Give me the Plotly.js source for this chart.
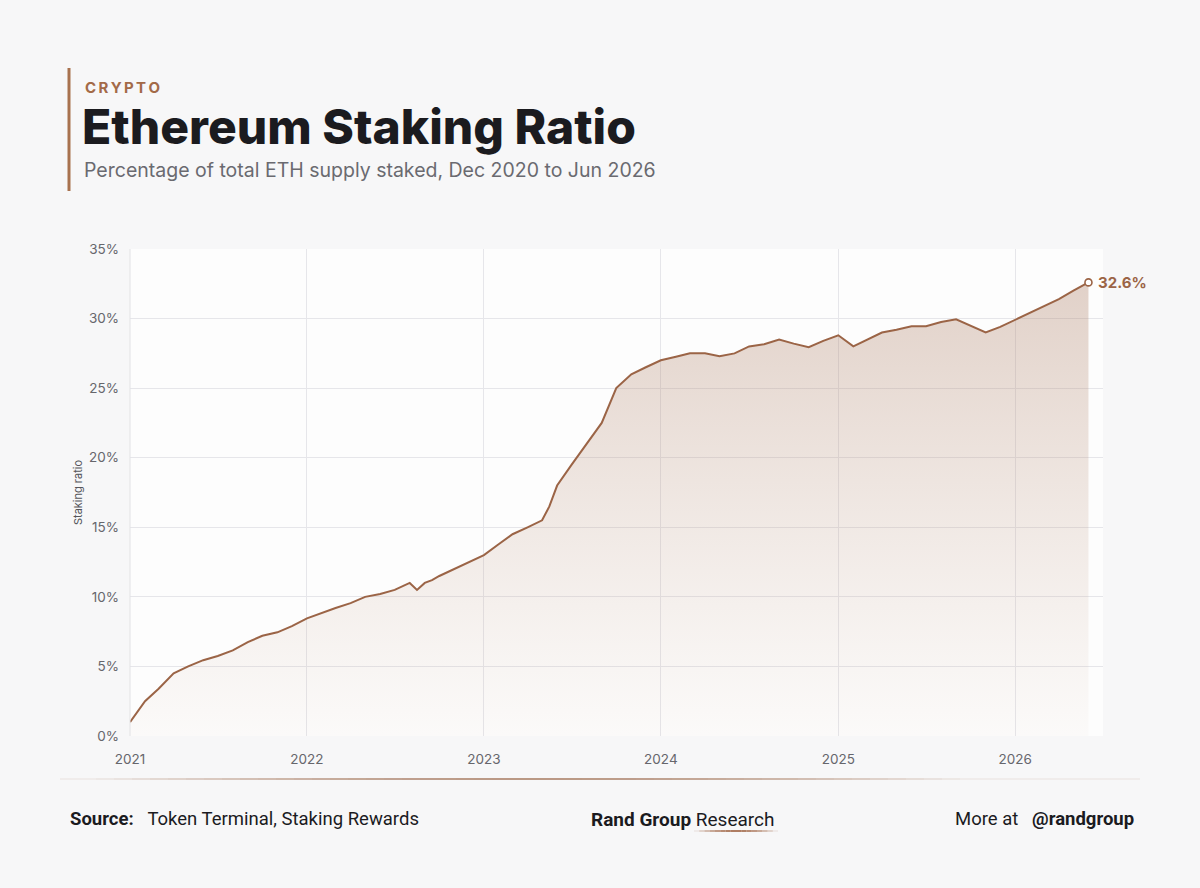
<!DOCTYPE html>
<html><head><meta charset="utf-8">
<script src="https://cdn.plot.ly/plotly-3.0.1.min.js"></script>
<style>html,body{margin:0;padding:0;background:#f7f7f8;}#chart{width:1200px;height:888px;}</style>
</head><body><div id="chart"></div>
<script>
// ---- Data ----
const dates = [
  '2021-01-01','2021-02-01','2021-03-01','2021-04-01','2021-05-01','2021-06-01',
  '2021-07-01','2021-08-01','2021-09-01','2021-10-01','2021-11-01','2021-12-01',
  '2022-01-01','2022-02-01','2022-03-01','2022-04-01','2022-05-01','2022-06-01',
  '2022-07-01','2022-08-01','2022-08-16','2022-09-01','2022-09-16','2022-10-01',
  '2022-11-01','2022-12-01',
  '2023-01-01','2023-02-01','2023-03-01','2023-04-01','2023-05-01','2023-05-16',
  '2023-06-01','2023-07-01','2023-08-01','2023-09-01','2023-10-01','2023-11-01','2023-12-01',
  '2024-01-01','2024-02-01','2024-03-01','2024-04-01','2024-05-01','2024-06-01',
  '2024-07-01','2024-08-01','2024-09-01','2024-10-01','2024-11-01','2024-12-01',
  '2025-01-01','2025-02-01','2025-03-01','2025-04-01','2025-05-01','2025-06-01',
  '2025-07-01','2025-08-01','2025-09-01','2025-10-01','2025-11-01','2025-12-01',
  '2026-01-01','2026-02-01','2026-03-01','2026-04-01','2026-05-01','2026-06-01'
];
const stakingPct = [
  1.0, 2.5, 3.4, 4.5, 5.0, 5.45,
  5.75, 6.15, 6.75, 7.2, 7.45, 7.9,
  8.45, 8.85, 9.2, 9.55, 10.0, 10.2,
  10.5, 11.0, 10.5, 11.0, 11.2, 11.5,
  12.0, 12.5,
  13.0, 13.8, 14.5, 15.0, 15.5, 16.5,
  18.0, 19.5, 21.0, 22.5, 25.0, 26.0, 26.5,
  27.0, 27.25, 27.5, 27.5, 27.3, 27.5,
  28.0, 28.15, 28.5, 28.2, 27.95, 28.4,
  28.8, 28.0, 28.5, 29.0, 29.2, 29.45,
  29.45, 29.75, 29.95, 29.5, 29.0, 29.4,
  29.9, 30.4, 30.9, 31.4, 32.0, 32.6
];
const yTickVals = [0, 5, 10, 15, 20, 25, 30, 35];
const yTickText = ['0%','5%','10%','15%','20%','25%','30%','35%'];
const xTickVals = ['2021-01-01','2022-01-01','2023-01-01','2024-01-01','2025-01-01','2026-01-01'];
const xTickText = ['2021','2022','2023','2024','2025','2026'];

const kicker = 'CRYPTO';
const titleText = 'Ethereum Staking Ratio';
const subtitleText = 'Percentage of total ETH supply staked, Dec 2020 to Jun 2026';
const yAxisTitle = 'Staking ratio';
const sourceText = 'Token Terminal, Staking Rewards';

// ---- Layout helpers ----
const L = 130, R = 1103, T = 249, B = 736;
const px = x => (x - L) / (R - L);
const py = y => (B - y) / (B - T);
const BROWN = '#9b6446';

const lastDate = dates[dates.length - 1];
const lastVal = stakingPct[stakingPct.length - 1];

const traces = [
  {
    x: dates, y: stakingPct, type: 'scatter', mode: 'lines',
    line: {color: BROWN, width: 2},
    fill: 'tozeroy',
    fillgradient: {type: 'vertical', start: 0, stop: 33,
      colorscale: [[0, 'rgba(190,150,125,0.03)'], [1, 'rgba(170,122,96,0.34)']]},
    hoverinfo: 'skip', showlegend: false
  },
  {
    x: [lastDate], y: [lastVal], type: 'scatter', mode: 'markers',
    marker: {size: 7, color: '#ffffff', line: {color: BROWN, width: 1.6}},
    cliponaxis: false, showlegend: false, hoverinfo: 'skip'
  }
];

const shapes = [
  {type: 'line', xref: 'paper', yref: 'paper', x0: px(69), x1: px(69), y0: py(68), y1: py(191),
   line: {color: '#a8724f', width: 3}},
  {type: 'line', xref: 'paper', yref: 'paper', x0: 0, x1: 0, y0: 0, y1: 1,
   line: {color: '#e2e2e5', width: 1}}
];
// gradient separator line
const segN = 60;
for (let i = 0; i < segN; i++) {
  const a = 60 + (1140 - 60) * i / segN, b = 60 + (1140 - 60) * (i + 1) / segN;
  const t = (i + 0.5) / segN;
  const op = Math.max(0.08, Math.sin(Math.PI * Math.min(1, t * 1.15)) * 0.7);
  shapes.push({type: 'line', xref: 'paper', yref: 'paper', x0: px(a), x1: px(b), y0: py(779), y1: py(779),
    line: {color: `rgba(160,112,84,${op.toFixed(3)})`, width: 2}});
}
// underline under "Research"
const ulN = 16;
for (let i = 0; i < ulN; i++) {
  const a = 694 + (778 - 694) * i / ulN, b = 694 + (778 - 694) * (i + 1) / ulN;
  const t = (i + 0.5) / ulN;
  const op = Math.sin(Math.PI * t) * 0.9;
  shapes.push({type: 'line', xref: 'paper', yref: 'paper', x0: px(a), x1: px(b), y0: py(831), y1: py(831),
    line: {color: `rgba(165,110,80,${op.toFixed(3)})`, width: 2}});
}

const FOOT = 'Roboto, sans-serif';
const annotations = [
  {xref: 'paper', yref: 'paper', x: px(83), y: py(87), xanchor: 'left', yanchor: 'middle', showarrow: false,
   text: '<b>' + kicker.split('').join('\u2009') + '</b>', font: {family: 'Inter, sans-serif', size: 15, color: '#a36a48'}},
  {xref: 'paper', yref: 'paper', x: px(80), y: py(127), xanchor: 'left', yanchor: 'middle', showarrow: false,
   text: titleText, font: {family: 'Inter, sans-serif', size: 48, weight: 800, color: '#1b1b1f'}},
  {xref: 'paper', yref: 'paper', x: px(82), y: py(170), xanchor: 'left', yanchor: 'middle', showarrow: false,
   text: subtitleText, font: {family: 'Inter, sans-serif', size: 19.5, color: '#6a6a70'}},
  {x: lastDate, y: lastVal, xref: 'x', yref: 'y', xanchor: 'left', yanchor: 'middle', xshift: 8, showarrow: false,
   text: '<b>' + lastVal.toFixed(1) + '%</b>', font: {family: 'Inter, sans-serif', size: 15, color: BROWN}},
  {xref: 'paper', yref: 'paper', x: px(68), y: py(819), xanchor: 'left', yanchor: 'middle', showarrow: false,
   text: '<b>Source:</b>\u00A0\u00A0\u00A0' + sourceText, font: {family: FOOT, size: 18.5, color: '#1b1b1f'}},
  {xref: 'paper', yref: 'paper', x: px(682), y: py(819), xanchor: 'center', yanchor: 'middle', showarrow: false,
   text: '<b>Rand Group</b> Research', font: {family: FOOT, size: 19, color: '#1b1b1f'}},
  {xref: 'paper', yref: 'paper', x: px(1136), y: py(819), xanchor: 'right', yanchor: 'middle', showarrow: false,
   text: 'More at\u00A0\u00A0\u00A0<b>@randgroup</b>', font: {family: FOOT, size: 18.5, color: '#1b1b1f'}}
];

const layout = {
  width: 1200, height: 888,
  margin: {l: L, r: 1200 - R, t: T, b: 888 - B},
  paper_bgcolor: '#f7f7f8', plot_bgcolor: '#fdfdfd',
  font: {family: 'Inter, sans-serif', color: '#66666c'},
  xaxis: {
    type: 'date', range: ['2021-01-01', '2026-07-01'],
    tickvals: xTickVals, ticktext: xTickText,
    showgrid: true, gridcolor: '#e6e6ea', gridwidth: 1,
    zeroline: false, showline: false, ticks: '',
    tickfont: {size: 13.5, color: '#66666c'}, ticklabelstandoff: 13
  },
  yaxis: {
    range: [0, 35], tickvals: yTickVals, ticktext: yTickText,
    showgrid: true, gridcolor: '#e6e6ea', gridwidth: 1,
    zeroline: false, showline: false, ticks: '',
    tickfont: {size: 13.5, color: '#66666c'}, ticklabelstandoff: 10,
    title: {text: yAxisTitle, font: {size: 11, color: '#55555a'}, standoff: 4}
  },
  shapes: shapes,
  annotations: annotations,
  showlegend: false
};

Plotly.newPlot('chart', traces, layout, {displayModeBar: false, staticPlot: true});
</script></body></html>
